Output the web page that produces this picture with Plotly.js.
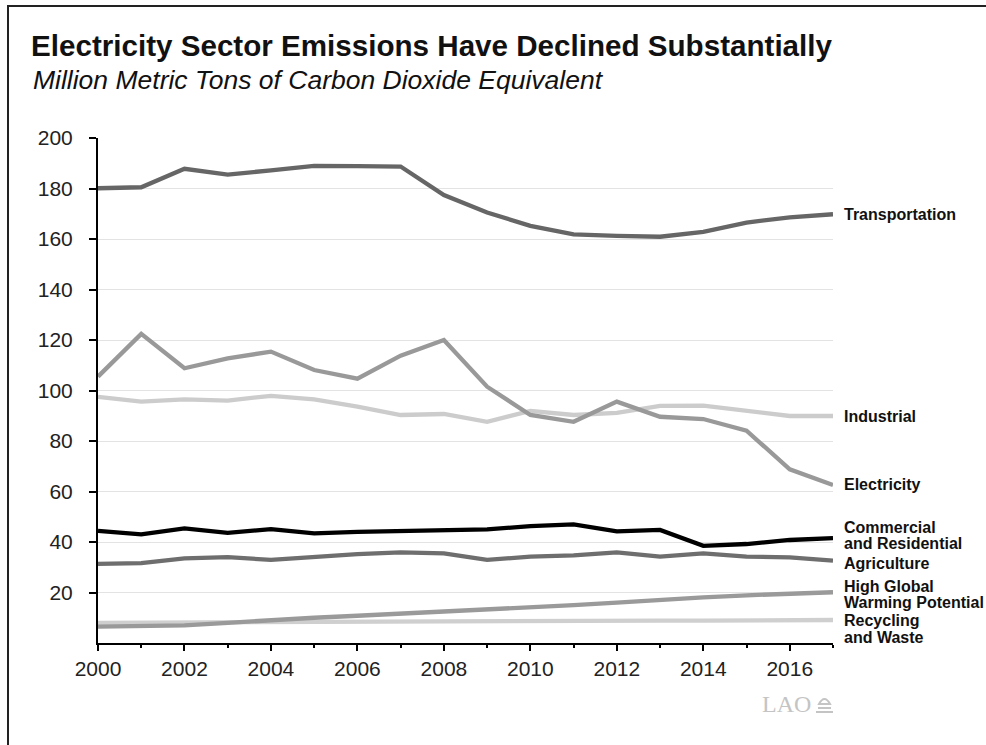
<!DOCTYPE html>
<html>
<head>
<meta charset="utf-8">
<script src="https://cdn.plot.ly/plotly-3.0.1.min.js"></script>
<style>
  html, body { margin: 0; padding: 0; background: #fff; }
  #wrap { position: relative; width: 986px; height: 745px; }
  #chart { position: absolute; left: 0; top: 0; width: 986px; height: 745px; }
  #frame { position: absolute; left: 7px; top: 5px; right: -2px; bottom: -2px;
           border-left: 2px solid #222; border-top: 2px solid #222; pointer-events: none; }
</style>
</head>
<body>
<div id="wrap"><div id="chart"></div><div id="frame"></div></div>
<script>
// ---- data ----
const years = [2000,2001,2002,2003,2004,2005,2006,2007,2008,2009,2010,2011,2012,2013,2014,2015,2016,2017];
const transportation = [180.1,180.5,187.8,185.5,187.2,189.0,188.9,188.7,177.4,170.5,165.2,161.8,161.2,160.9,162.8,166.5,168.6,169.8];
const electricity    = [105.5,122.4,108.8,112.7,115.4,108.1,104.7,113.8,120.0,101.5,90.3,87.6,95.6,89.6,88.7,84.1,68.8,62.6];
const industrial     = [97.5,95.6,96.5,96.0,97.9,96.5,93.6,90.3,90.7,87.6,91.9,90.3,91.1,93.9,94.0,92.0,89.9,89.9];
const commercialResidential = [44.4,43.0,45.4,43.6,45.1,43.4,44.0,44.4,44.9,45.0,46.3,47.0,44.2,44.8,38.5,39.2,40.8,41.5];
const agriculture    = [31.3,31.6,33.5,34.0,32.9,34.2,35.2,35.9,35.5,32.9,34.2,34.7,35.9,34.2,35.5,34.2,33.9,32.6];
const highGWP        = [6.5,6.8,7.0,8.0,9.2,10.0,10.8,11.6,12.4,13.0,14.0,15.0,16.0,17.2,18.1,18.9,19.6,20.1];
const recyclingWaste = [8.0,8.1,8.1,8.2,8.3,8.4,8.5,8.6,8.7,8.8,8.8,8.8,8.9,8.9,8.9,9.0,9.1,9.1];

const seriesNames = ["Transportation","Electricity","Industrial","Commercial\nand Residential","Agriculture","High Global\nWarming Potential","Recycling\nand Waste"];
const yTicks = [20,40,60,80,100,120,140,160,180,200];
const xTicks = [2000,2002,2004,2006,2008,2010,2012,2014,2016];

// ---- styling (not data) ----
const series = [
  {y: recyclingWaste, name: seriesNames[6], color: "#cfcfcf", shifts: [0, -17]},
  {y: highGWP, name: seriesNames[5], color: "#9a9a9a", shifts: [6, -10]},
  {y: agriculture, name: seriesNames[4], color: "#6e6e6e", shifts: [-3]},
  {y: commercialResidential, name: seriesNames[3], color: "#000000", shifts: [11, -5]},
  {y: industrial, name: seriesNames[2], color: "#cccccc", shifts: [0]},
  {y: electricity, name: seriesNames[1], color: "#999999", shifts: [0]},
  {y: transportation, name: seriesNames[0], color: "#666666", shifts: [0]}
];

const W = 986, H = 745;
const M = {l: 98, r: 153, t: 138, b: 102};
const PW = W - M.l - M.r, PH = H - M.t - M.b;
const px2x = p => (p - M.l) / PW;
const px2y = p => (H - M.b - p) / PH;

const traces = series.map(s => ({
  x: years, y: s.y, type: "scatter", mode: "lines", name: s.name.replace("\n", " "),
  line: {color: s.color, width: 4.3}, hoverinfo: "x+y+name"
}));

const annotations = [];
series.forEach(s => {
  const lines = s.name.split("\n");
  lines.forEach((ln, i) => {
    annotations.push({
      x: years[years.length - 1], y: s.y[s.y.length - 1], xref: "x", yref: "y",
      text: ln, showarrow: false, xanchor: "left", yanchor: "middle",
      xshift: 9, yshift: s.shifts[i],
      font: {family: "Liberation Sans, Arial, sans-serif", size: 16, color: "#111", weight: "bold"}
    });
  });
});

annotations.push({
  xref: "paper", yref: "paper", x: px2x(31), y: px2y(80), xanchor: "left", yanchor: "middle",
  text: "<i>Million Metric Tons of Carbon Dioxide Equivalent</i>", showarrow: false,
  font: {family: "Liberation Sans, Arial, sans-serif", size: 26.5, color: "#111"}
});
annotations.push({
  xref: "paper", yref: "paper", x: px2x(813), y: px2y(704), xanchor: "right", yanchor: "middle",
  text: "LAO", showarrow: false,
  font: {family: "Liberation Serif, Times New Roman, serif", size: 24, color: "#c4c4c4"}
});

const shapes = [
  {type: "path", xref: "paper", yref: "paper",
   path: `M ${px2x(816)} ${px2y(712)} L ${px2x(833)} ${px2y(712)} M ${px2x(818)} ${px2y(708)} L ${px2x(831)} ${px2y(708)} M ${px2x(819)} ${px2y(704)} Q ${px2x(824.5)} ${px2y(694)} ${px2x(830)} ${px2y(704)} Z`,
   line: {color: "#c4c4c4", width: 2}, fillcolor: "rgba(0,0,0,0)"}
];

const layout = {
  width: W, height: H,
  margin: M,
  paper_bgcolor: "#fff", plot_bgcolor: "#fff",
  showlegend: false,
  font: {family: "Liberation Sans, Arial, sans-serif", color: "#222"},
  title: {
    text: "<b>Electricity Sector Emissions Have Declined Substantially</b>",
    xref: "container", yref: "container", x: 31 / W, xanchor: "left",
    y: 1 - 46 / H, yanchor: "middle",
    font: {family: "Liberation Sans, Arial, sans-serif", size: 29.6, color: "#111"}
  },
  xaxis: {
    range: [2000, 2017], tickvals: xTicks, ticktext: xTicks.map(String),
    showgrid: false, zeroline: false,
    showline: true, linecolor: "#000", linewidth: 2,
    ticks: "outside", ticklen: 6, tickwidth: 2, tickcolor: "#000",
    minor: {dtick: 1, tick0: 2000, ticks: "outside", ticklen: 3, tickwidth: 2, tickcolor: "#000", showgrid: false},
    tickfont: {size: 21, color: "#222"}, ticklabelstandoff: 0,
    fixedrange: true
  },
  yaxis: {
    range: [0, 200], tickvals: yTicks, ticktext: yTicks.map(String),
    showgrid: true, gridcolor: "#e3e3e3", gridwidth: 1,
    zeroline: false, showline: true, linecolor: "#000", linewidth: 2,
    ticks: "outside", ticklen: 7, tickwidth: 2, tickcolor: "#000",
    tickfont: {size: 21, color: "#222"}, ticklabelstandoff: 12,
    fixedrange: true
  },
  annotations: annotations,
  shapes: shapes
};

Plotly.newPlot("chart", traces, layout, {displayModeBar: false, staticPlot: true});
</script>
</body>
</html>
